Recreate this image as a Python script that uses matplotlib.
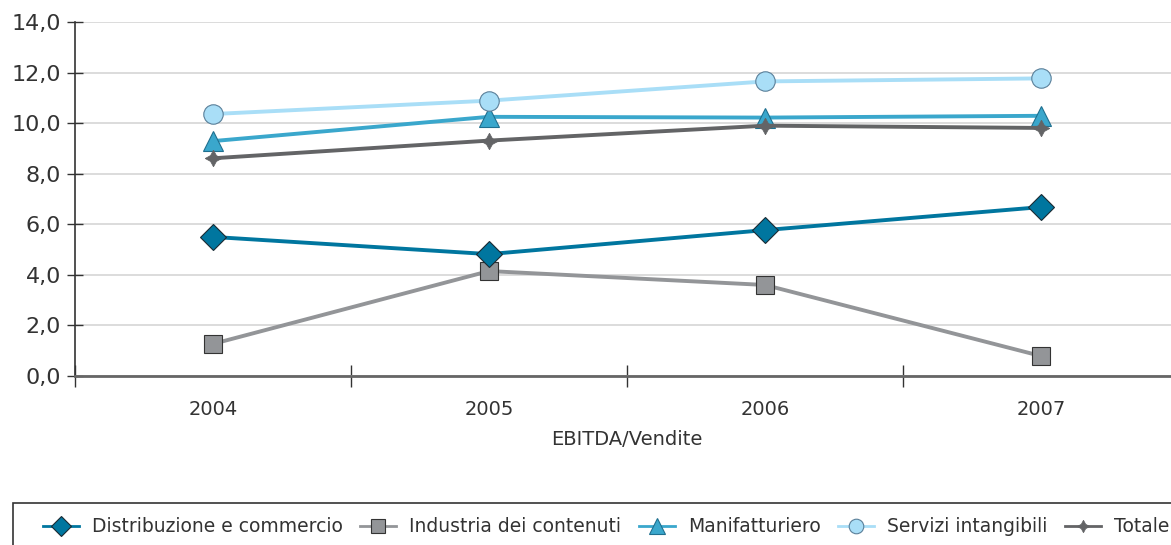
import numpy as np
import matplotlib.pyplot as plt
from matplotlib.ticker import FixedLocator, FuncFormatter
from matplotlib.patches import Rectangle

years = ['2004', '2005', '2006', '2007']
distribuzione = [5.50, 4.82, 5.77, 6.68]
industria = [1.27, 4.15, 3.60, 0.79]
manifatturiero = [9.29, 10.25, 10.22, 10.29]
servizi = [10.36, 10.89, 11.65, 11.77]
totale = [8.61, 9.31, 9.90, 9.81]

plt.rcParams['font.family'] = ['DejaVu Sans']
txt = '#333333'

fig = plt.figure(figsize=(11.71, 5.45), dpi=100)
ax = fig.add_axes([75/1171, 1-376/545, 1104/1171, 354/545])

x = np.arange(len(years))
lw = 2.8
ax.plot(x, industria, color='#939598', lw=lw, marker='s', ms=13, mfc='#939598',
        mec='#333333', mew=0.8, label='Industria dei contenuti', zorder=3)
ax.plot(x, distribuzione, color='#00769f', lw=lw, marker='D', ms=13, mfc='#00769f',
        mec='#1a2a33', mew=0.8, label='Distribuzione e commercio', zorder=4)
ax.plot(x, totale, color='#636466', lw=lw, marker=(4, 1, 0), ms=12, mfc='#636466',
        mec='#636466', mew=0.5, label='Totale', zorder=5)
ax.plot(x, manifatturiero, color='#3aa7cc', lw=lw, marker='^', ms=15, mfc='#3aa7cc',
        mec='#1f6f8f', mew=0.8, label='Manifatturiero', zorder=4)
ax.plot(x, servizi, color='#a9def7', lw=lw, marker='o', ms=14, mfc='#a9def7',
        mec='#5a7f99', mew=0.8, label='Servizi intangibili', zorder=4)

ax.set_xlim(-0.5, 3.5)
ax.set_ylim(0, 14)
ax.set_yticks(np.arange(0, 14.1, 2))
ax.yaxis.set_major_formatter(FuncFormatter(lambda v, p: f'{v:.1f}'.replace('.', ',')))
ax.set_xticks(x)
ax.set_xticklabels(years)
ax.xaxis.set_minor_locator(FixedLocator(np.arange(-0.5, 3.6, 1)))
ax.tick_params(axis='x', which='major', length=0, pad=17, labelsize=14, labelcolor=txt)
ax.tick_params(axis='x', which='minor', length=16, direction='inout', width=1, color='#333333')
ax.tick_params(axis='y', length=12, direction='inout', width=1, color='#333333',
               labelsize=16, labelcolor=txt, pad=4)

ax.grid(axis='y', color='#d9d9d9', lw=1.3, zorder=0)
ax.set_axisbelow(True)
for s in ['top', 'right']:
    ax.spines[s].set_visible(False)
ax.spines['left'].set_color('#333333')
ax.spines['left'].set_linewidth(1.2)
ax.spines['bottom'].set_color('#666666')
ax.spines['bottom'].set_linewidth(2)

ax.set_xlabel('EBITDA/Vendite', fontsize=14, color=txt, labelpad=8)

# legend frame drawn separately (box runs off the right and bottom edges)
fig.patches.append(Rectangle((13/1171, -0.2), 1.0, 0.2 + 1-503/545, transform=fig.transFigure,
                             fill=False, edgecolor='#333333', lw=1.2))

h, l = ax.get_legend_handles_labels()
order = ['Distribuzione e commercio', 'Industria dei contenuti', 'Manifatturiero',
         'Servizi intangibili', 'Totale']
hh = [h[l.index(o)] for o in order]
leg = fig.legend(hh, order, loc='center left', bbox_to_anchor=(43/1171, 1-527/545),
                 ncol=5, frameon=False, fontsize=13.5, handlelength=1.9,
                 handletextpad=0.7, columnspacing=0.95, borderpad=0, borderaxespad=0,
                 markerscale=0.75, labelcolor=txt)
for ln in leg.get_lines():
    ln.set_linewidth(2)

fig.savefig('out.png', dpi=100)
